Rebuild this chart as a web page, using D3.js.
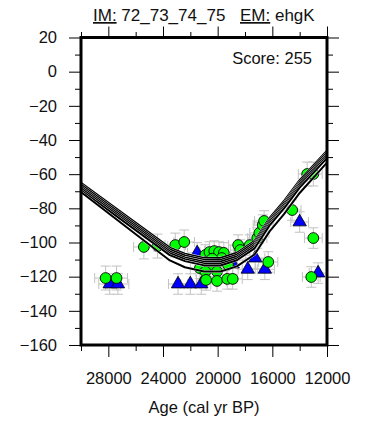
<!DOCTYPE html>
<html>
<head>
<meta charset="utf-8">
<script src="https://cdn.jsdelivr.net/npm/d3@7"></script>
<style>
  html, body { margin: 0; padding: 0; background: #fff; }
  svg { display: block; font-family: "Liberation Sans", Arial, Helvetica, sans-serif; }
</style>
</head>
<body>
<svg id="chart" width="366" height="429"></svg>
<script>
// Model sea-level curves (age in cal yr BP, relative sea level in m)
const modelAges = [30000, 23500, 22400, 21000, 19800, 18600, 17300, 16200, 15100, 14000, 12000];
const model1 = [-65.0, -103.0, -106.5, -109.0, -109.1, -106.0, -99.0, -85.6, -75.2, -63.5, -46.2];
const model2 = [-66.1, -104.1, -107.6, -110.1, -110.2, -107.1, -100.1, -86.7, -76.3, -64.6, -47.3];
const model3 = [-67.2, -105.2, -108.7, -111.2, -111.3, -108.2, -101.2, -87.8, -77.4, -65.7, -48.4];
const model4 = [-68.3, -106.3, -109.8, -112.3, -112.4, -109.3, -102.3, -88.9, -78.5, -66.8, -49.5];
const model5 = [-69.4, -107.4, -110.9, -113.4, -113.5, -110.4, -103.4, -90.0, -79.6, -67.9, -50.6];
const model6 = [-70.5, -110.5, -114.5, -117.0, -117.0, -114.0, -107.0, -93.5, -83.0, -71.0, -53.2];
const models = [model1, model2, model3, model4, model5, model6];

// Observations shown as circles
const circleAge = [28200, 27400, 25400, 24400, 23100, 22450, 20900, 20600, 20250, 19900, 19550,
                   20900, 19700, 20550, 21300, 20400, 19250, 20900, 20050, 20850, 20050, 19300, 18900,
                   18500, 18350, 17650, 17100, 16950, 16700, 16600, 16300, 14550, 13450, 13000,
                   13000, 13150];
const circleRsl = [-120.8, -120.8, -102.6, -102.1, -101.5, -99.7, -107.3, -105.6, -105.0, -105.6, -106.1,
                   -111.4, -109.1, -113.8, -115.0, -109.5, -113.0, -117.0, -117.0, -121.9, -122.5, -121.3, -121.3,
                   -101.5, -104.4, -101.5, -97.4, -94.4, -89.8, -87.4, -111.4, -81.0, -59.9, -59.9,
                   -97.4, -120.2];
const circleAgeErr = [800, 800, 750, 750, 750, 750, 700, 700, 700, 700, 700,
                      700, 700, 700, 700, 700, 700, 700, 700, 700, 700, 700, 700,
                      700, 700, 700, 700, 700, 700, 700, 700, 650, 650, 650,
                      650, 650];
const circleRslErr = [7, 7, 7, 7, 7, 7, 6, 6, 6, 6, 6,
                      6, 6, 6, 6, 6, 6, 6, 6, 6, 6, 6, 6,
                      6, 6, 6, 6, 6, 6, 6, 6, 6, 7, 7,
                      6, 6];

// Observations shown as triangles
const triAge = [27900, 27300, 22900, 22000, 21200, 21500, 18900, 17800, 17250, 16550, 14000, 12650];
const triRsl = [-124.3, -124.3, -124.3, -124.3, -124.3, -106.1, -112.6, -115.7, -109.1, -115.7, -88.0, -117.9];
const triAgeErr = [800, 800, 700, 700, 700, 700, 700, 700, 700, 700, 650, 650];
const triRslErr = [6, 6, 6, 6, 6, 6, 6, 6, 6, 6, 6, 6];

// Axis ticks
const xMajor = [28000, 24000, 20000, 16000, 12000];
const xMinor = [30000, 26000, 22000, 18000, 14000];
const yMajor = [20, 0, -20, -40, -60, -80, -100, -120, -140, -160];
const yMinor = [10, -10, -30, -50, -70, -90, -110, -130, -150];

const svg = d3.select("#chart");
const pLeft = 81, pRight = 327, pTop = 37.5, pBottom = 345;

const x = d3.scaleLinear().domain([30000, 12000]).range([pLeft, pRight]);
const y = d3.scaleLinear().domain([-160, 20]).range([pBottom, pTop]);

const font = 16.5;

// Title
const title = svg.append("g").attr("font-size", 17).attr("fill", "#111");
const t1 = title.append("text").attr("x", 93).attr("y", 21);
t1.append("tspan").attr("text-decoration", "underline").text("IM:");
t1.append("tspan").text(" 72_73_74_75");
const t2 = title.append("text").attr("x", 240).attr("y", 21);
t2.append("tspan").attr("text-decoration", "underline").text("EM:");
t2.append("tspan").text(" ehgK");

// Clip region for plotted content
svg.append("defs").append("clipPath").attr("id", "plot-clip")
  .append("rect").attr("x", pLeft).attr("y", pTop).attr("width", pRight - pLeft).attr("height", pBottom - pTop);

const plot = svg.append("g").attr("clip-path", "url(#plot-clip)");

// Error bars
const obs = [];
circleAge.forEach((a, i) => obs.push({a, r: circleRsl[i], ea: circleAgeErr[i], er: circleRslErr[i]}));
triAge.forEach((a, i) => obs.push({a, r: triRsl[i], ea: triAgeErr[i], er: triRslErr[i]}));

const errG = plot.append("g").attr("stroke", "#c2c2c2").attr("stroke-width", 1).attr("fill", "none");
const cap = 5;
obs.forEach(d => {
  const cx = x(d.a), cy = y(d.r);
  const x0 = x(d.a + d.ea), x1 = x(d.a - d.ea);
  const y0 = y(d.r + d.er), y1 = y(d.r - d.er);
  errG.append("path").attr("d",
    `M${x0},${cy}H${x1}` +
    `M${x0},${cy - cap}V${cy + cap}M${x1},${cy - cap}V${cy + cap}` +
    `M${cx},${y0}V${y1}` +
    `M${cx - cap},${y0}H${cx + cap}M${cx - cap},${y1}H${cx + cap}`);
});

// Triangles
plot.append("g").selectAll("path").data(triAge).join("path")
  .attr("transform", (d, i) => `translate(${x(d)},${y(triRsl[i])})`)
  .attr("d", d3.symbol().type(d3.symbolTriangle).size(78))
  .attr("fill", "#0000ff").attr("stroke", "#000").attr("stroke-width", 0.8);

// Circles
plot.append("g").selectAll("circle").data(circleAge).join("circle")
  .attr("cx", d => x(d)).attr("cy", (d, i) => y(circleRsl[i]))
  .attr("r", 5.4)
  .attr("fill", "#00ff00").attr("stroke", "#000").attr("stroke-width", 0.9);

// Model curves: each drawn with a thin white casing so the bundle stays readable
const line = d3.line().x((d, i) => x(modelAges[i])).y(d => y(d));
const lineG = plot.append("g").attr("fill", "none").attr("stroke-linejoin", "round");
models.forEach(m => {
  lineG.append("path").attr("d", line(m)).attr("stroke", "#fff").attr("stroke-width", 2.6);
  lineG.append("path").attr("d", line(m)).attr("stroke", "#000").attr("stroke-width", 2.0);
});

// Score
svg.append("text").attr("x", 312).attr("y", 64).attr("text-anchor", "end")
  .attr("font-size", font).attr("fill", "#111").text("Score: 255");

// Axes
function styleAxis(g) {
  g.select(".domain").remove();
  g.selectAll(".tick line").attr("stroke", "#000").attr("stroke-width", 1);
  g.selectAll("text").attr("font-size", font).attr("fill", "#111")
    .attr("font-family", "'Liberation Sans', Arial, Helvetica, sans-serif");
}
const fmtX = d3.format("d");

svg.append("g").attr("transform", `translate(0,${pBottom})`)
  .call(d3.axisBottom(x).tickValues(xMajor).tickSize(12).tickPadding(15).tickFormat(fmtX)).call(styleAxis);
svg.append("g").attr("transform", `translate(0,${pBottom})`)
  .call(d3.axisBottom(x).tickValues(xMinor).tickSize(6).tickFormat("")).call(styleAxis);
svg.append("g").attr("transform", `translate(0,${pTop})`)
  .call(d3.axisTop(x).tickValues(xMajor).tickSize(11).tickFormat("")).call(styleAxis);
svg.append("g").attr("transform", `translate(0,${pTop})`)
  .call(d3.axisTop(x).tickValues(xMinor).tickSize(5.5).tickFormat("")).call(styleAxis);

svg.append("g").attr("transform", `translate(${pLeft},0)`)
  .call(d3.axisLeft(y).tickValues(yMajor).tickSize(12).tickPadding(12)).call(styleAxis);
svg.append("g").attr("transform", `translate(${pLeft},0)`)
  .call(d3.axisLeft(y).tickValues(yMinor).tickSize(6).tickFormat("")).call(styleAxis);
svg.append("g").attr("transform", `translate(${pRight},0)`)
  .call(d3.axisRight(y).tickValues(yMajor).tickSize(12).tickFormat("")).call(styleAxis);
svg.append("g").attr("transform", `translate(${pRight},0)`)
  .call(d3.axisRight(y).tickValues(yMinor).tickSize(6).tickFormat("")).call(styleAxis);

// Frame
svg.append("rect").attr("x", pLeft).attr("y", pTop).attr("width", pRight - pLeft).attr("height", pBottom - pTop)
  .attr("fill", "none").attr("stroke", "#000").attr("stroke-width", 3);

// X axis label
svg.append("text").attr("x", (pLeft + pRight) / 2).attr("y", 413).attr("text-anchor", "middle")
  .attr("font-size", font).attr("fill", "#111").text("Age (cal yr BP)");
</script>
</body>
</html>
